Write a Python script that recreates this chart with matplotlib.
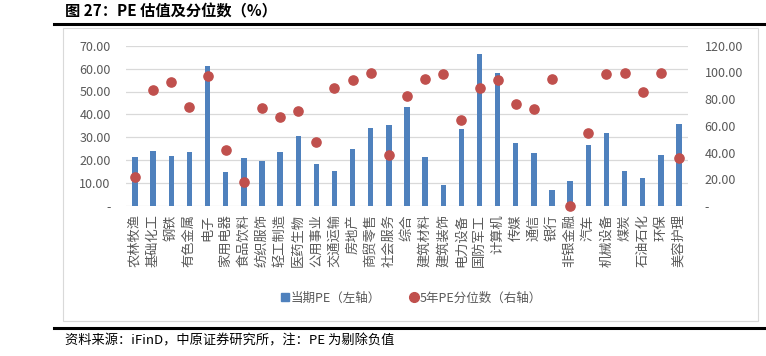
import matplotlib.pyplot as plt
import numpy as np
from matplotlib.lines import Line2D
from matplotlib.patches import Rectangle
from matplotlib.ticker import FuncFormatter, MultipleLocator

plt.rcParams['font.family'] = ['Noto Sans CJK SC', 'DejaVu Sans']

industries = [
    "农林牧渔", "基础化工", "钢铁", "有色金属", "电子", "家用电器", "食品饮料",
    "纺织服饰", "轻工制造", "医药生物", "公用事业", "交通运输", "房地产", "商贸零售",
    "社会服务", "综合", "建筑材料", "建筑装饰", "电力设备", "国防军工", "计算机",
    "传媒", "通信", "银行", "非银金融", "汽车", "机械设备", "煤炭", "石油石化",
    "环保", "美容护理",
]
pe_now = [
    21.5, 24.1, 21.8, 23.4, 61.1, 14.8, 21.0, 19.8, 23.6, 30.4, 18.3, 15.3, 25.0,
    33.9, 35.5, 43.2, 21.5, 9.3, 33.8, 66.2, 57.9, 27.5, 23.0, 7.0, 10.9, 26.5,
    31.7, 15.3, 12.1, 22.3, 35.7,
]
pe_pct = [
    21.9, 86.7, 93.1, 74.2, 97.2, 42.2, 18.2, 73.4, 66.4, 71.4, 48.2, 88.4, 94.6,
    99.8, 38.0, 82.2, 95.1, 98.6, 64.2, 88.1, 94.4, 76.4, 72.4, 95.4, 0.0, 54.9,
    98.6, 99.8, 85.2, 99.8, 36.0,
]

W, H = 766, 356
GRAY = "#595959"


def fx(px):
    return px / W


def fy(py):
    return 1 - py / H


def dash_fmt(v, _):
    return "-" if abs(v) < 1e-9 else f"{v:.2f}"


fig = plt.figure(figsize=(W / 100, H / 100), dpi=100)

# chart frame and the report's rules
fig.add_artist(Rectangle((fx(62.7), fy(321)), fx(758) - fx(62.7), fy(28) - fy(321),
                         transform=fig.transFigure, fill=False, ec="#D9D9D9", lw=0.8))
fig.add_artist(Line2D([fx(54), 1], [fy(24), fy(24)], color="black", lw=2.2))
fig.add_artist(Line2D([fx(54), 1], [fy(327.5), fy(327.5)], color="black", lw=2.2))

ax = fig.add_axes([fx(126), fy(206), fx(688) - fx(126), (206 - 45.7) / H])
x = np.arange(len(industries))
ax.bar(x, pe_now, width=0.3, color="#4F81BD", zorder=2)
ax.set_xlim(-0.5, len(industries) - 0.5)
ax.set_ylim(0, 70)
ax.yaxis.set_major_locator(MultipleLocator(10))
ax.yaxis.set_major_formatter(FuncFormatter(dash_fmt))
ax.grid(axis="y", color="#D9D9D9", lw=0.9, zorder=0)
ax.set_axisbelow(True)
ax.set_xticks(x)
ax.set_xticklabels(industries, rotation=90, va="top", ha="center",
                   fontsize=9.5, color=GRAY)
ax.tick_params(axis="x", length=0, pad=6)
ax.tick_params(axis="y", length=0, pad=11, labelsize=9, labelcolor=GRAY)
for s in ax.spines.values():
    s.set_visible(False)

ax2 = ax.twinx()
ax2.scatter(x, pe_pct, s=44, color="#C0504D", zorder=3, clip_on=False)
ax2.set_ylim(0, 120)
ax2.yaxis.set_major_locator(MultipleLocator(20))
ax2.yaxis.set_major_formatter(FuncFormatter(dash_fmt))
ax2.tick_params(axis="y", length=0, pad=12, labelsize=9, labelcolor=GRAY)
for s in ax2.spines.values():
    s.set_visible(False)

handles = [
    Line2D([], [], marker="s", ls="", color="#4F81BD", markersize=5.5),
    Line2D([], [], marker="o", ls="", color="#C0504D", markersize=7),
]
fig.legend(handles, ["当期PE（左轴）", "5年PE分位数（右轴）"], loc="center",
           bbox_to_anchor=(fx(411), fy(298)), ncol=2, frameon=False,
           fontsize=9, labelcolor=GRAY, handletextpad=0.1, columnspacing=2.2,
           handlelength=0.8)

fig.text(fx(65), fy(11), "图 27：PE 估值及分位数（%）", fontsize=11,
         fontweight="bold", va="center")
fig.text(fx(65), fy(341), "资料来源：iFinD，中原证券研究所，注：PE 为剔除负值",
         fontsize=9.5, va="center")

fig.savefig("out.png", dpi=100)
plt.close(fig)
